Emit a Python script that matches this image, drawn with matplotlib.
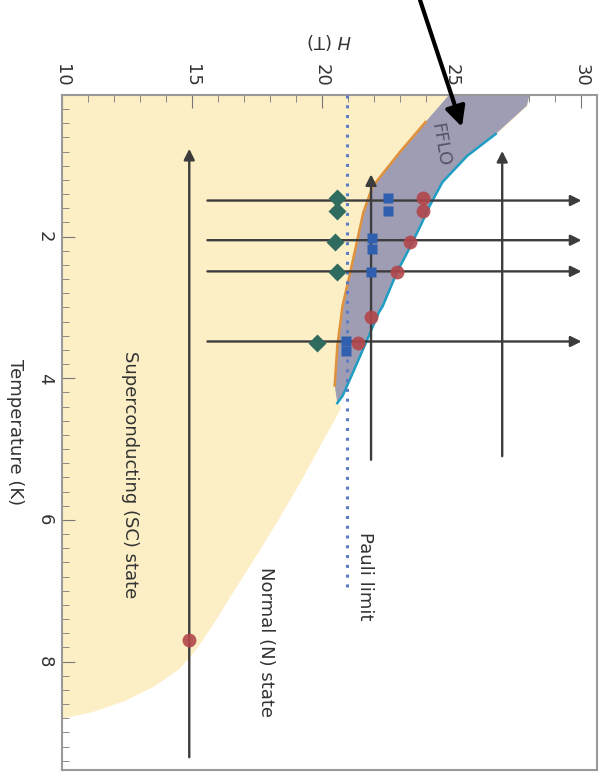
import matplotlib.pyplot as plt
import numpy as np

# phase boundaries (T in K, H in T)
sc_T = [0.0, 0.38, 0.81, 1.29, 1.66, 2.5, 2.98, 3.55, 4.1,
        4.4, 5.0, 5.47, 6.0, 6.42, 7.0, 7.5, 7.8, 8.1, 8.35, 8.55, 8.7, 8.8]
sc_H = [24.9, 24.0, 23.0, 21.96, 21.6, 21.1, 20.8, 20.6, 20.5,
        20.75, 19.85, 19.15, 18.3, 17.6, 16.6, 15.75, 15.2, 14.5, 13.5, 12.4, 11.2, 10.0]
n_low = 9  # points below this index bound the FFLO band

fflo_T = [0.0, 0.15, 0.55, 0.86, 1.23, 1.57, 1.85, 2.22, 2.5, 2.98, 3.07, 3.5, 3.92, 4.25, 4.35]
fflo_H = [28.0, 27.9, 26.7, 25.6, 24.65, 24.15, 23.8, 23.3, 22.9, 22.35, 22.2, 21.7, 21.2, 20.8, 20.6]
cyan_from = 2  # cyan edge starts at this index

orange_T = [0.38, 0.81, 1.29, 1.66, 2.5, 2.98, 3.55, 4.1]
orange_H = [24.0, 23.0, 21.96, 21.6, 21.1, 20.8, 20.6, 20.5]

pauli_H = 20.96
pauli_T = [0.0, 6.95]

# field sweeps (horizontal here) and temperature sweeps (vertical here)
sweep_T = [1.49, 2.05, 2.49, 3.48]
sweep_H = [15.6, 30.0]
tsweep_H = [14.9, 21.9, 26.95]
tsweep_T0 = [9.35, 5.15, 5.1]
tsweep_T1 = [0.76, 1.12, 0.79]

# measured points
dia_H = [20.6, 20.6, 20.5, 20.6, 19.8]
dia_T = [1.45, 1.64, 2.07, 2.5, 3.5]
sq_H = [22.55, 22.55, 21.95, 21.95, 21.9, 20.95, 20.95]
sq_T = [1.45, 1.64, 2.02, 2.17, 2.5, 3.48, 3.62]
circ_H = [23.9, 23.9, 23.4, 22.9, 21.9, 21.4, 14.9]
circ_T = [1.45, 1.64, 2.07, 2.5, 3.14, 3.5, 7.7]

h_ticks = [10, 15, 20, 25, 30]
t_ticks = [2, 4, 6, 8]

plt.rcParams['font.family'] = ['DejaVu Sans']
fig = plt.figure(figsize=(6.03, 7.76), dpi=100)
ax = fig.add_axes([62 / 603, 1 - 770 / 776, 535 / 603, 675 / 776])

yellow = '#fcefc6'
# SC region: from H=10 out to the outer (FFLO) boundary, then SC boundary
outer_T = np.concatenate([fflo_T, sc_T[n_low:]])
outer_H = np.concatenate([fflo_H, sc_H[n_low:]])
ax.fill_betweenx(outer_T, 10, outer_H, color=yellow, lw=0, zorder=1)

# FFLO band
poly_H = list(sc_H[:n_low]) + list(fflo_H[::-1])
poly_T = list(sc_T[:n_low]) + list(fflo_T[::-1])
ax.fill(poly_H, poly_T, color='#9e9db4', lw=0, zorder=2)
ax.plot(orange_H, orange_T, color='#e0913c', lw=1.8, zorder=3)
ax.plot(fflo_H[cyan_from:], fflo_T[cyan_from:], color='#1f9ec4', lw=1.8, zorder=3)

ax.plot([pauli_H, pauli_H], pauli_T, color='#5b7cc4', lw=2.2, ls=(0, (1, 2.2)), zorder=3)

arrow_kw = dict(arrowstyle='-|>', color='#3c3c3c', lw=1.7, mutation_scale=16, shrinkA=0, shrinkB=0)
for t in sweep_T:
    ax.annotate('', xy=(sweep_H[1], t), xytext=(sweep_H[0], t), arrowprops=arrow_kw, zorder=4)
for h, t0, t1 in zip(tsweep_H, tsweep_T0, tsweep_T1):
    ax.annotate('', xy=(h, t1), xytext=(h, t0), arrowprops=arrow_kw, zorder=4)

ax.plot(dia_H, dia_T, 'D', color='#2f6b5f', ms=9, mec='none', zorder=5)
ax.plot(sq_H, sq_T, 's', color='#2f5fae', ms=7, mec='none', zorder=5)
ax.plot(circ_H, circ_T, 'o', color='#b2474b', ms=10, mec='none', alpha=0.9, zorder=5)

ax.set_xlim(10, 30.6)
ax.set_ylim(9.53, 0)
ax.xaxis.tick_top()
ax.xaxis.set_label_position('top')
ax.set_xticks(h_ticks)
ax.set_xticks(np.arange(10, 31, 1), minor=True)
ax.set_yticks(t_ticks)
ax.set_yticks(np.arange(0, 9.6, 0.2), minor=True)
ax.tick_params(which='both', direction='in', color='#777777', right=False, bottom=False)
ax.tick_params(which='major', length=9, labelsize=13, labelcolor='#333333', pad=6)
ax.tick_params(which='minor', length=5)
for lab in ax.get_xticklabels():
    lab.set_rotation(-90)
    lab.set_va('bottom')
for lab in ax.get_yticklabels():
    lab.set_rotation(-90)
    lab.set_va('center')
for sp in ax.spines.values():
    sp.set_color('#999999')
    sp.set_linewidth(1.5)

ax.set_xlabel('$H$ (T)', fontsize=13, color='#333333', rotation=180, labelpad=12)
ax.set_ylabel('Temperature (K)', fontsize=13, color='#333333', rotation=-90, va='center', ha='center')
ax.yaxis.set_label_coords(-0.088, 0.5)

txt = dict(rotation=-90, ha='center', va='center', fontsize=13, color='#333333', zorder=6)
ax.text(12.6, 5.36, 'Superconducting (SC) state', **txt)
ax.text(17.85, 7.72, 'Normal (N) state', **txt)
ax.text(21.65, 6.8, 'Pauli limit', **txt)
ax.text(24.55, 0.7, 'FFLO', **dict(txt, rotation=-80, color='#555566'))

ax.annotate('', xy=(25.4, 0.45), xycoords='data', xytext=(420 / 603, 1.0), textcoords='figure fraction',
            arrowprops=dict(arrowstyle='-|>', color='black', lw=3, mutation_scale=30, shrinkA=0, shrinkB=0),
            annotation_clip=False, zorder=7)

fig.savefig('out.png', dpi=100)
